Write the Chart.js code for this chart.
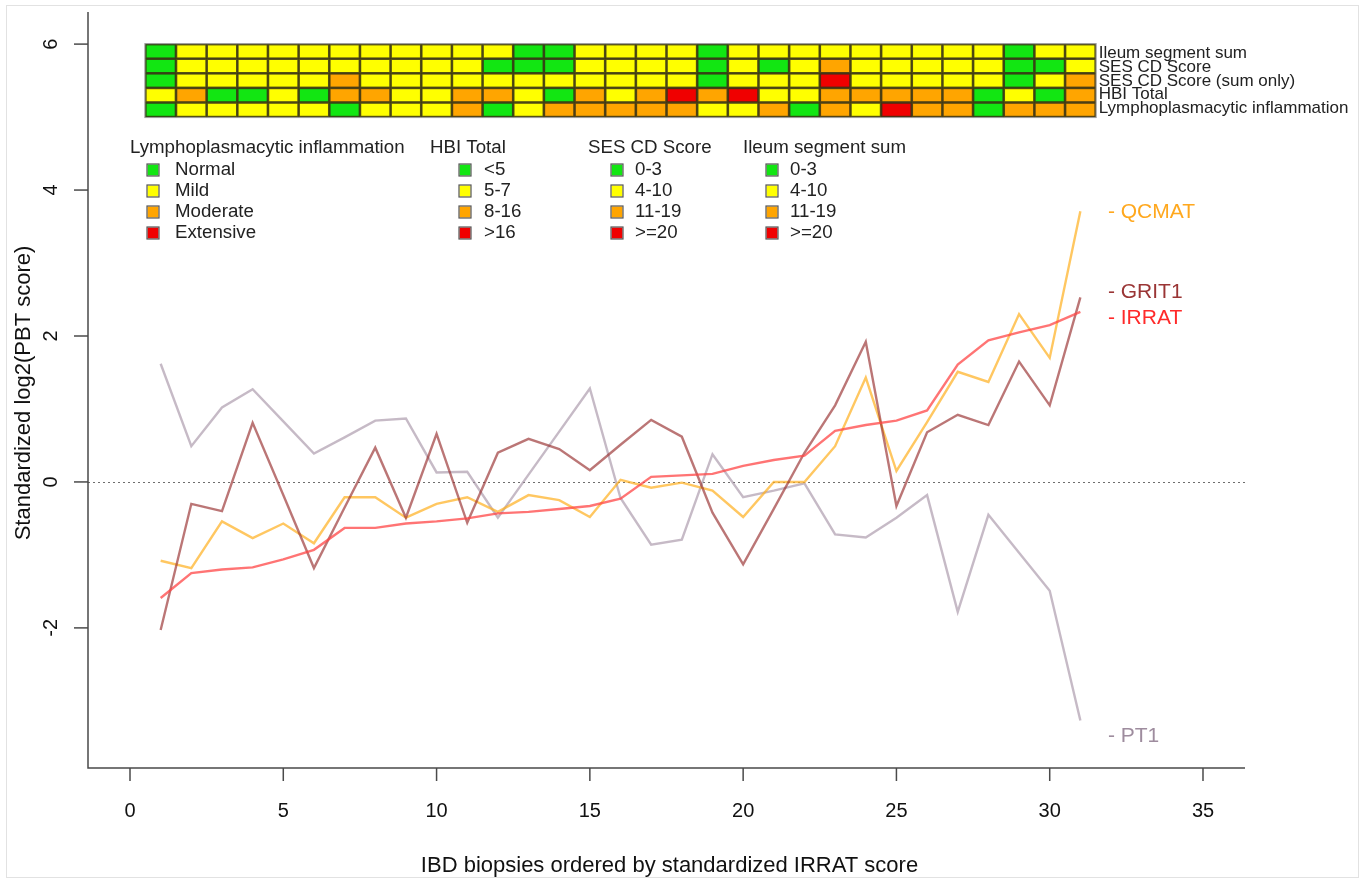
<!DOCTYPE html>
<html><head><meta charset="utf-8">
<script src="https://cdn.jsdelivr.net/npm/chart.js@4.4.1/dist/chart.umd.min.js"></script>
<style>html,body{margin:0;padding:0;background:#fff;}canvas{display:block;}</style>
</head><body>
<canvas id="c" width="1365" height="883"></canvas>
<script>
// ---- data ----
const biopsy = [1,2,3,4,5,6,7,8,9,10,11,12,13,14,15,16,17,18,19,20,21,22,23,24,25,26,27,28,29,30,31];
const IRRAT = [-1.59,-1.25,-1.20,-1.17,-1.06,-0.93,-0.63,-0.63,-0.57,-0.54,-0.50,-0.43,-0.41,-0.37,-0.33,-0.23,0.07,0.09,0.11,0.22,0.30,0.36,0.70,0.78,0.84,0.98,1.61,1.94,2.05,2.15,2.33];
const GRIT1 = [-2.03,-0.30,-0.40,0.81,-0.18,-1.18,-0.35,0.47,-0.49,0.66,-0.56,0.40,0.59,0.45,0.16,0.51,0.85,0.62,-0.42,-1.13,-0.37,0.40,1.05,1.92,-0.33,0.68,0.92,0.78,1.65,1.05,2.53];
const QCMAT = [-1.08,-1.18,-0.54,-0.77,-0.57,-0.84,-0.21,-0.21,-0.49,-0.30,-0.21,-0.41,-0.18,-0.25,-0.48,0.03,-0.08,-0.01,-0.12,-0.48,0.00,0.00,0.49,1.43,0.15,0.82,1.51,1.37,2.30,1.70,3.71];
const PT1 = [1.62,0.49,1.02,1.27,0.83,0.39,0.61,0.84,0.87,0.13,0.14,-0.49,0.10,0.69,1.28,-0.22,-0.86,-0.79,0.38,-0.21,-0.12,-0.02,-0.72,-0.76,-0.49,-0.18,-1.78,-0.45,-0.97,-1.49,-3.27];
const seriesNames = ['IRRAT','GRIT1','QCMAT','PT1'];
const seriesEndLabelY = [2.25, 2.6, 3.7, -3.48];

// heatmap rows (0 = first level/green, 1 = yellow, 2 = orange, 3 = red)
const heatRowNames = ['Ileum segment sum','SES CD Score','SES CD Score (sum only)','HBI Total','Lymphoplasmacytic inflammation'];
const ileumSum   = [0,1,1,1,1,1,1,1,1,1,1,1,0,0,1,1,1,1,0,1,1,1,1,1,1,1,1,1,0,1,1];
const sesCD      = [0,1,1,1,1,1,1,1,1,1,1,0,0,0,1,1,1,1,0,1,0,1,2,1,1,1,1,1,0,0,1];
const sesCDsum   = [0,1,1,1,1,1,2,1,1,1,1,1,1,1,1,1,1,1,0,1,1,1,3,1,1,1,1,1,0,1,2];
const hbiTotal   = [1,2,0,0,1,0,2,2,1,1,2,2,1,0,2,1,2,3,2,3,1,1,2,2,2,2,2,0,1,0,2];
const lymphoInfl = [0,1,1,1,1,1,0,1,1,1,2,0,1,2,2,2,2,2,1,1,2,0,2,1,3,2,2,0,2,2,2];

const legendTitles = ['Lymphoplasmacytic inflammation','HBI Total','SES CD Score','Ileum segment sum'];
const legendLabels = [['Normal','Mild','Moderate','Extensive'],['<5','5-7','8-16','>16'],['0-3','4-10','11-19','>=20'],['0-3','4-10','11-19','>=20']];

const xTicks = [0,5,10,15,20,25,30,35];
const yTicks = [-2,0,2,4,6];
const xTitle = 'IBD biopsies ordered by standardized IRRAT score';
const yTitle = 'Standardized log2(PBT score)';

// ---- styles ----
const levelColors = ['#12e612','#ffff00','#ffa500','#f00000'];
const lineColors = {IRRAT:'rgba(255,70,70,0.75)',GRIT1:'rgba(150,45,45,0.65)',QCMAT:'rgba(255,175,30,0.7)',PT1:'rgba(160,140,160,0.6)'};
const labelColors = {IRRAT:'#ff2a2a',GRIT1:'#9a3535',QCMAT:'#ffa81e',PT1:'#9e8c9e'};
const FONT = '"Liberation Sans", Arial, sans-serif';

const seriesData = {IRRAT, GRIT1, QCMAT, PT1};
const datasets = seriesNames.map(n => ({
  label:n,
  data: biopsy.map((b,i)=>({x:b,y:seriesData[n][i]})),
  borderColor: lineColors[n], borderWidth: 2.4, pointRadius:0, tension:0, fill:false
}));

const decor = {
  id:'decor',
  beforeDraw(chart){
    const ctx = chart.ctx;
    ctx.save(); ctx.strokeStyle='#e2e2e2'; ctx.lineWidth=1;
    ctx.strokeRect(6.5,5.5,1352,872); ctx.restore();
  },
  beforeDatasetsDraw(chart){
    const {ctx, chartArea:a, scales:{x,y}} = chart;
    ctx.save();
    ctx.setLineDash([2,3]); ctx.strokeStyle='#6e6e6e'; ctx.lineWidth=1.2;
    const y0 = Math.round(y.getPixelForValue(0))+0.5;
    ctx.beginPath(); ctx.moveTo(a.left,y0); ctx.lineTo(a.right,y0); ctx.stroke();
    ctx.restore();
  },
  afterDatasetsDraw(chart){
    const {ctx, chartArea:a, scales:{x,y}} = chart;
    ctx.save();
    // axes frame (L)
    ctx.strokeStyle='#4a4a4a'; ctx.lineWidth=1.5;
    ctx.beginPath(); ctx.moveTo(a.left,a.top); ctx.lineTo(a.left,a.bottom); ctx.lineTo(a.right,a.bottom); ctx.stroke();
    // ticks
    ctx.fillStyle='#111'; ctx.font='20px '+FONT;
    xTicks.forEach(t=>{
      const px = x.getPixelForValue(t);
      ctx.beginPath(); ctx.moveTo(px,a.bottom); ctx.lineTo(px,a.bottom+13); ctx.stroke();
      ctx.textAlign='center'; ctx.textBaseline='middle'; ctx.fillText(String(t),px,a.bottom+43);
    });
    yTicks.forEach(t=>{
      const py = y.getPixelForValue(t);
      ctx.beginPath(); ctx.moveTo(a.left-14,py); ctx.lineTo(a.left,py); ctx.stroke();
      ctx.save(); ctx.translate(a.left-37,py); ctx.rotate(-Math.PI/2);
      ctx.textAlign='center'; ctx.textBaseline='middle'; ctx.fillText(String(t),0,0); ctx.restore();
    });
    // axis titles
    ctx.font='22px '+FONT; ctx.textAlign='center'; ctx.textBaseline='middle';
    ctx.fillText(xTitle,(x.getPixelForValue(-1.37)+x.getPixelForValue(36.37))/2+3, a.bottom+98);
    ctx.save(); ctx.translate(24,(a.top+a.bottom)/2+3); ctx.rotate(-Math.PI/2); ctx.fillText(yTitle,0,0); ctx.restore();

    // heatmap
    const rows = [ileumSum, sesCD, sesCDsum, hbiTotal, lymphoInfl];
    rows.forEach((row,r)=>{
      const yTop = y.getPixelForValue(6-0.2*r), yBot = y.getPixelForValue(6-0.2*(r+1));
      row.forEach((lv,i)=>{
        const x1 = x.getPixelForValue(biopsy[i]-0.5), x2 = x.getPixelForValue(biopsy[i]+0.5);
        ctx.fillStyle = levelColors[lv]; ctx.fillRect(x1,yTop,x2-x1,yBot-yTop);
      });
    });
    ctx.strokeStyle='rgba(55,50,20,0.85)'; ctx.lineWidth=1.6;
    rows.forEach((row,r)=>{
      const yTop = y.getPixelForValue(6-0.2*r), yBot = y.getPixelForValue(6-0.2*(r+1));
      row.forEach((lv,i)=>{
        const x1 = x.getPixelForValue(biopsy[i]-0.5), x2 = x.getPixelForValue(biopsy[i]+0.5);
        ctx.strokeRect(x1+0.5,yTop+0.5,x2-x1-1,yBot-yTop-1);
      });
    });
    ctx.strokeStyle='#999'; ctx.lineWidth=1;
    ctx.strokeRect(x.getPixelForValue(0.5)-0.5,y.getPixelForValue(6)-0.5,x.getPixelForValue(31.5)-x.getPixelForValue(0.5)+1,y.getPixelForValue(5)-y.getPixelForValue(6)+1);
    ctx.fillStyle='#222'; ctx.font='17px '+FONT; ctx.textAlign='left'; ctx.textBaseline='middle';
    const labTop = y.getPixelForValue(5.9)+2, labBot = y.getPixelForValue(5.1)-1.5;
    heatRowNames.forEach((n,r)=>{
      ctx.fillText(n, x.getPixelForValue(31.5)+3, labTop+(labBot-labTop)*r/4);
    });

    // legend
    const titleX=[130,430,588,743], sqX=[153,465,617,772], labX=[175,484,635,790];
    ctx.font='18.7px '+FONT;
    legendTitles.forEach((t,g)=>{
      ctx.fillStyle='#222'; ctx.textAlign='left'; ctx.fillText(t,titleX[g],148);
      legendLabels[g].forEach((l,k)=>{
        const cy = 170+21*k;
        ctx.fillStyle=levelColors[k]; ctx.fillRect(sqX[g]-5.5,cy-5.5,11,11);
        ctx.strokeStyle='#555'; ctx.lineWidth=1.2; ctx.strokeRect(sqX[g]-6,cy-6,12,12);
        ctx.fillStyle='#222'; ctx.fillText(l,labX[g],cy);
      });
    });

    // series end labels
    ctx.font='21px '+FONT; ctx.textAlign='left';
    seriesNames.forEach((n,i)=>{
      ctx.fillStyle=labelColors[n];
      ctx.fillText('- '+n, x.getPixelForValue(31.9), y.getPixelForValue(seriesEndLabelY[i]));
    });
    ctx.restore();
  }
};

new Chart(document.getElementById('c'),{
  type:'line',
  data:{datasets},
  options:{
    responsive:false, animation:false, devicePixelRatio:1,
    layout:{padding:{left:88,right:120,top:12,bottom:115}},
    plugins:{legend:{display:false},tooltip:{enabled:false}},
    scales:{
      x:{type:'linear',min:-1.37,max:36.37,display:false},
      y:{type:'linear',min:-3.92,max:6.44,display:false}
    }
  },
  plugins:[decor]
});
</script>
</body></html>
